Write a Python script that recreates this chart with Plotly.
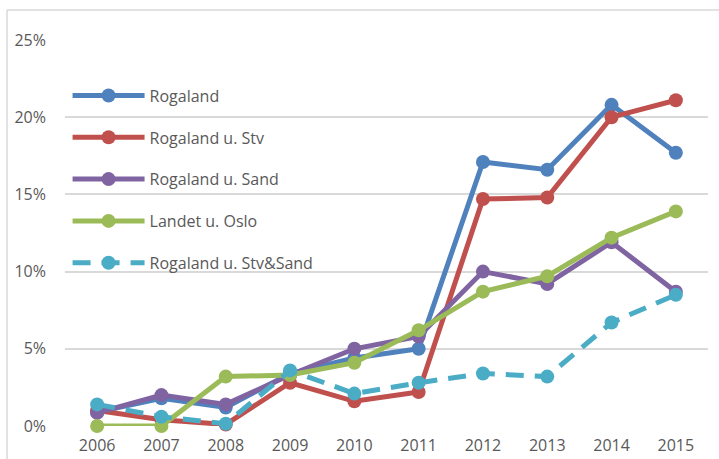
import plotly.graph_objects as go

years = ["2006", "2007", "2008", "2009", "2010", "2011", "2012", "2013", "2014", "2015"]
rogaland = [0.009, 0.018, 0.012, 0.034, 0.044, 0.050, 0.171, 0.166, 0.208, 0.177]
rogaland_u_stv = [0.010, 0.004, 0.001, 0.028, 0.016, 0.022, 0.147, 0.148, 0.200, 0.211]
rogaland_u_sand = [0.0085, 0.020, 0.014, 0.033, 0.050, 0.058, 0.100, 0.092, 0.119, 0.087]
landet_u_oslo = [0.000, 0.000, 0.032, 0.033, 0.041, 0.062, 0.087, 0.097, 0.122, 0.139]
rogaland_u_stv_sand = [0.014, 0.006, 0.0015, 0.036, 0.021, 0.028, 0.034, 0.032, 0.067, 0.085]
y_ticks = [0, 0.05, 0.10, 0.15, 0.20, 0.25]
y_tick_labels = ["0%", "5%", "10%", "15%", "20%", "25%"]

series = [
    ("Rogaland", rogaland, "#4F81BD", "solid"),
    ("Rogaland u. Stv", rogaland_u_stv, "#C0504D", "solid"),
    ("Rogaland u. Sand", rogaland_u_sand, "#8064A2", "solid"),
    ("Landet u. Oslo", landet_u_oslo, "#9BBB59", "solid"),
    ("Rogaland u. Stv&Sand", rogaland_u_stv_sand, "#4BACC6", "18px,11px"),
]

fig = go.Figure()
for i, (name, vals, color, dash) in enumerate(series):
    fig.add_trace(go.Scatter(
        x=years, y=vals, name=name, mode="lines+markers",
        line=dict(color=color, width=5, dash=dash),
        marker=dict(color=color, size=14),
        cliponaxis=False, legendgroup=f"g{i}",
    ))

font = dict(family="Open Sans, sans-serif", size=16, color="#595959")
fig.update_layout(
    width=719, height=459,
    margin=dict(l=65, r=11, t=40, b=33),
    paper_bgcolor="white", plot_bgcolor="white",
    font=font,
    showlegend=True,
    legend=dict(
        x=0.004, y=0.90, xanchor="left", yanchor="top",
        bgcolor="rgba(0,0,0,0)", traceorder="grouped",
        tracegroupgap=18, itemwidth=72,
        font=font,
    ),
    xaxis=dict(
        type="category", showgrid=False, zeroline=False, showline=False,
        ticks="", tickfont=font, range=[-0.5, 9.5],
        ticklabelstandoff=8, automargin=False,
    ),
    yaxis=dict(
        range=[0, 0.25], tickvals=y_ticks, ticktext=y_tick_labels,
        showgrid=True, gridcolor="#D9D9D9", gridwidth=1.5,
        zeroline=False, showline=False, ticks="", tickfont=font,
        ticklabelstandoff=18, automargin=False,
    ),
    shapes=[
        dict(type="line", xref="paper", yref="paper", x0=-0.0902, x1=-0.0902,
             y0=1.0777, y1=-0.2, line=dict(color="#D9D9D9", width=1.5)),
        dict(type="line", xref="paper", yref="paper", x0=-0.0902, x1=1.1,
             y0=1.0777, y1=1.0777, line=dict(color="#D9D9D9", width=1.5)),
    ],
)

fig.write_html("out.html", config={"displayModeBar": False},
               post_script="document.body.style.margin='0';")
